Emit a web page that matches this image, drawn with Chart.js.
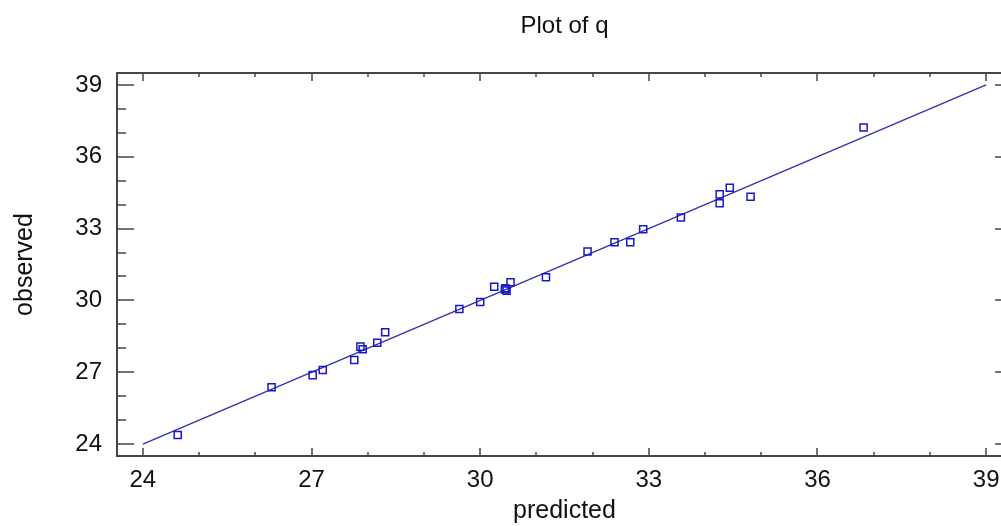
<!DOCTYPE html>
<html>
<head>
<meta charset="utf-8">
<title>Plot of q</title>
<script src="https://cdn.jsdelivr.net/npm/chart.js@4.4.0/dist/chart.umd.min.js"></script>
<style>
  html, body { margin: 0; padding: 0; background: #fff; overflow: hidden; }
  #wrap { width: 1001px; height: 526px; overflow: hidden; position: relative; }
  canvas { display: block; }
</style>
</head>
<body>
<div id="wrap"><canvas id="plot" width="1129" height="526"></canvas></div>
<script>
// values
const predicted = [24.62, 26.29, 27.02, 27.20, 27.76, 27.87, 27.91, 28.17, 28.31, 29.63,
                   30.00, 30.25, 30.45, 30.47, 30.44, 30.54, 31.17, 31.91, 32.39, 32.67,
                   32.90, 33.57, 34.26, 34.26, 34.44, 34.81, 36.82];
const observed  = [24.38, 26.37, 26.88, 27.09, 27.51, 28.07, 27.96, 28.23, 28.67, 29.64,
                   29.93, 30.57, 30.51, 30.41, 30.46, 30.76, 30.97, 32.04, 32.43, 32.43,
                   32.97, 33.46, 34.43, 34.06, 34.71, 34.33, 37.22];
const lineEnds = [24, 39];
const xTicks = [24, 27, 30, 33, 36, 39];
const yTicks = [24, 27, 30, 33, 36, 39];
const minorStep = 1;

const FONT = "'Liberation Sans', Arial, sans-serif";
const INK = "#111";
const AXIS = "#454545";

// box with inward ticks; the right edge of the box lies outside the window
const framePlugin = {
  id: "frame",
  afterDatasetsDraw(chart) {
    const { ctx, chartArea: a, scales: { x, y } } = chart;
    ctx.save();
    ctx.strokeStyle = AXIS;
    ctx.lineWidth = 2;
    ctx.beginPath();
    ctx.moveTo(a.right + 1, a.top);
    ctx.lineTo(a.left, a.top);
    ctx.lineTo(a.left, a.bottom);
    ctx.lineTo(a.right + 1, a.bottom);
    ctx.stroke();

    ctx.lineWidth = 1.5;
    ctx.beginPath();
    for (let v = xTicks[0]; v <= xTicks[xTicks.length - 1]; v += minorStep) {
      const px = Math.round(x.getPixelForValue(v));
      const len = xTicks.includes(v) ? 8 : 4;
      ctx.moveTo(px, a.bottom); ctx.lineTo(px, a.bottom - len);
      ctx.moveTo(px, a.top); ctx.lineTo(px, a.top + len);
    }
    for (let v = yTicks[0]; v <= yTicks[yTicks.length - 1]; v += minorStep) {
      const py = Math.round(y.getPixelForValue(v));
      const len = yTicks.includes(v) ? 17 : 9;
      ctx.moveTo(a.left, py); ctx.lineTo(a.left + len, py);
      ctx.moveTo(a.right, py); ctx.lineTo(a.right - len, py);
    }
    ctx.stroke();
    ctx.restore();
  }
};

new Chart(document.getElementById("plot"), {
  data: {
    datasets: [
      {
        type: "scatter",
        data: predicted.map((p, i) => ({ x: p, y: observed[i] })),
        pointStyle: "rect",
        pointRadius: 5,
        pointHoverRadius: 5,
        backgroundColor: "rgba(0,0,0,0)",
        borderColor: "#1818c8",
        borderWidth: 1.5,
        order: 0,
      },
      {
        type: "line",
        data: lineEnds.map(v => ({ x: v, y: v })),
        borderColor: "#3030b0",
        borderWidth: 1.3,
        pointRadius: 0,
        fill: false,
        order: 1,
      },
    ],
  },
  options: {
    responsive: false,
    animation: false,
    devicePixelRatio: 1,
    layout: { padding: 0 },
    plugins: {
      legend: { display: false },
      tooltip: { enabled: false },
      title: {
        display: true,
        text: "Plot of q",
        color: INK,
        font: { family: FONT, size: 24, weight: "normal", lineHeight: 1.2 },
        padding: { top: 12, bottom: 32.2 },
      },
    },
    scales: {
      x: {
        type: "linear",
        position: "bottom",
        min: 23.54,
        max: 39.46,
        grid: { display: false, drawTicks: false },
        border: { display: false },
        afterBuildTicks: s => { s.ticks = xTicks.map(v => ({ value: v })); },
        afterFit: s => { s.height = 70; },
        ticks: {
          color: INK,
          font: { family: FONT, size: 24, lineHeight: 1.2 },
          padding: 10,
          maxRotation: 0,
          autoSkip: false,
          callback: v => String(v),
        },
        title: {
          display: true,
          text: "predicted",
          color: INK,
          font: { family: FONT, size: 25, lineHeight: 1.2 },
          padding: { top: 0, bottom: 0 },
        },
      },
      y: {
        type: "linear",
        position: "left",
        min: 23.5,
        max: 39.5,
        grid: { display: false, drawTicks: false },
        border: { display: false },
        afterBuildTicks: s => { s.ticks = yTicks.map(v => ({ value: v })); },
        afterFit: s => { s.width = 117; },
        ticks: {
          color: INK,
          font: { family: FONT, size: 24, lineHeight: 1.2 },
          padding: 15,
          autoSkip: false,
          callback: v => String(v),
        },
        title: {
          display: true,
          text: "observed",
          color: INK,
          font: { family: FONT, size: 25, lineHeight: 1.2 },
          padding: { top: 10, bottom: 0 },
        },
      },
      // empty right axis, keeps the plot centred under the title
      y2: {
        type: "linear",
        position: "right",
        min: 23.5,
        max: 39.5,
        grid: { display: false, drawTicks: false },
        border: { display: false },
        ticks: { display: false },
        afterFit: s => { s.width = 117; },
      },
    },
  },
  plugins: [framePlugin],
});
</script>
</body>
</html>
